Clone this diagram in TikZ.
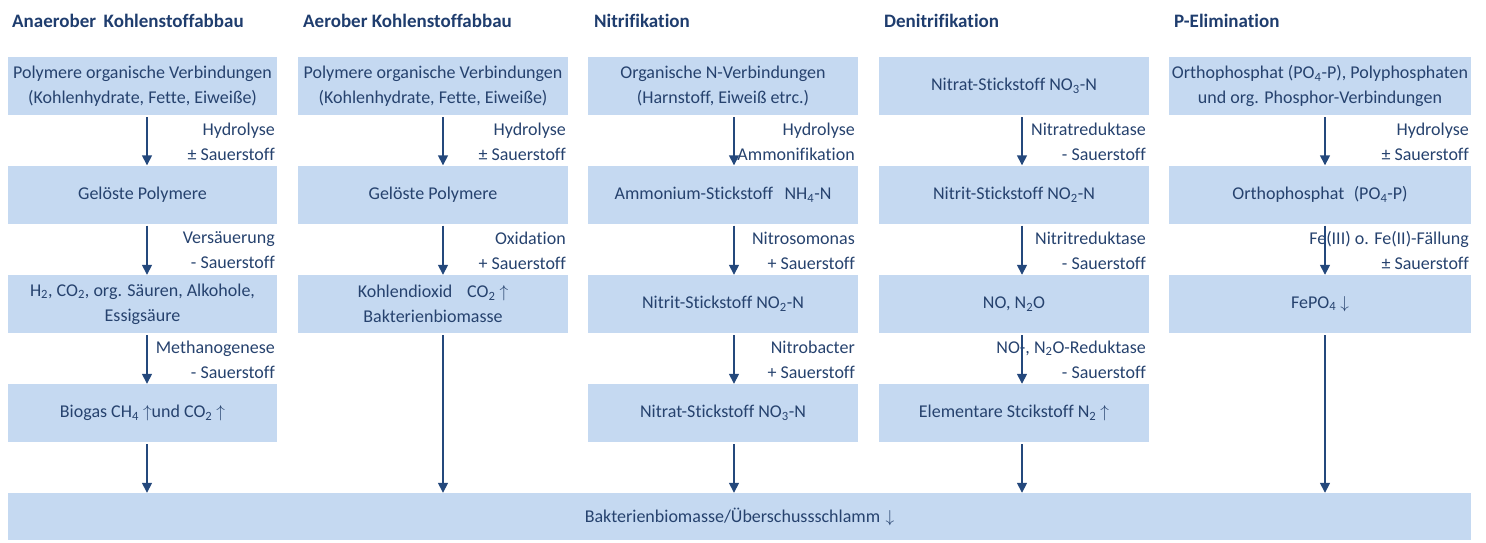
\documentclass[tikz,border=0pt]{standalone}
\usepackage{fontspec}
\setmainfont{Carlito}[Ligatures=NoCommon]
\usetikzlibrary{arrows.meta}
\definecolor{boxblue}{HTML}{C5D9F1}
\definecolor{txt}{HTML}{26426E}
\definecolor{hdr}{HTML}{1F3D6E}
\definecolor{arrc}{HTML}{24487C}
\newcommand{\sbs}[1]{\textsubscript{#1}}
\begin{document}
\begin{tikzpicture}[x=1pt,y=-1pt,
  box/.style={fill=boxblue, inner sep=0pt, minimum width=270pt, minimum height=58pt,
    align=center, text=txt, font=\fontsize{18}{25}\selectfont},
  lbl/.style={anchor=east, inner sep=0pt, align=right, text=txt, font=\fontsize{18}{25}\selectfont},
  hd/.style={anchor=west, inner sep=0pt, text=hdr, font=\fontsize{19}{22}\selectfont\bfseries},
  arr/.style={draw=arrc, line width=1.5pt, -{Triangle[width=10pt,length=10pt]}, shorten <=2pt}]
\useasboundingbox (0,0) rectangle (1486,542);
% arrow columns
\coordinate (a1) at (147,0);
\coordinate (a2) at (443,0);
\coordinate (a3) at (734,0);
\coordinate (a4) at (1022,0);
\coordinate (a5) at (1325,0);
% headers
\node[hd] (h1) at (12,21) {Anaerober\hspace{0.4em}Kohlenstoffabbau};
\node[hd] (h2) at (303,21) {Aerober Kohlenstoffabbau};
\node[hd] (h3) at (594,21) {Nitrifikation};
\node[hd] (h4) at (884,21) {Denitrifikation};
\node[hd] (h5) at (1174,21) {P-Elimination};
% column 1
\node[box, minimum width=269pt] (n11) at (142.5,86) {Polymere organische Verbindungen\\(Kohlenhydrate, Fette, Eiweiße)};
\node[box, minimum width=269pt] (n12) at (142.5,194.5) {Gelöste Polymere};
\node[box, minimum width=269pt] (n13) at (142.5,304) {H\sbs{2}, CO\sbs{2}, org. Säuren, Alkohole,\\Essigsäure};
\node[box, minimum width=269pt] (n14) at (142.5,413) {Biogas CH\sbs{4} $\uparrow$und CO\sbs{2} $\uparrow$};
\node[lbl] (l11) at (275,141.5) {Hydrolyse\\± Sauerstoff};
\node[lbl] (l12) at (275,250.5) {Versäuerung\\- Sauerstoff};
\node[lbl] (l13) at (275,359.5) {Methanogenese\\- Sauerstoff};
% column 2
\node[box] (n21) at (433,86) {Polymere organische Verbindungen\\(Kohlenhydrate, Fette, Eiweiße)};
\node[box] (n22) at (433,194.5) {Gelöste Polymere};
\node[box] (n23) at (433,304) {Kohlendioxid\hspace{0.6em} CO\sbs{2} $\uparrow$\\Bakterienbiomasse};
\node[lbl] (l21) at (566,141.5) {Hydrolyse\\± Sauerstoff};
\node[lbl] (l22) at (566,250.5) {Oxidation\\+ Sauerstoff};
% column 3
\node[box] (n31) at (723,86) {Organische N-Verbindungen\\(Harnstoff, Eiweiß etrc.)};
\node[box] (n32) at (723,194.5) {Ammonium-Stickstoff\hspace{0.4em} NH\sbs{4}-N};
\node[box] (n33) at (723,304) {Nitrit-Stickstoff NO\sbs{2}-N};
\node[box] (n34) at (723,413) {Nitrat-Stickstoff NO\sbs{3}-N};
\node[lbl] (l31) at (855,141.5) {Hydrolyse\\Ammonifikation};
\node[lbl] (l32) at (855,250.5) {Nitrosomonas\\+ Sauerstoff};
\node[lbl] (l33) at (855,359.5) {Nitrobacter\\+ Sauerstoff};
% column 4
\node[box] (n41) at (1014,86) {Nitrat-Stickstoff NO\sbs{3}-N};
\node[box] (n42) at (1014,194.5) {Nitrit-Stickstoff NO\sbs{2}-N};
\node[box] (n43) at (1014,304) {NO, N\sbs{2}O};
\node[box] (n44) at (1014,413) {Elementare Stcikstoff N\sbs{2} $\uparrow$};
\node[lbl] (l41) at (1146,141.5) {Nitratreduktase\\- Sauerstoff};
\node[lbl] (l42) at (1146,250.5) {Nitritreduktase\\- Sauerstoff};
\node[lbl] (l43) at (1146,359.5) {NO-, N\sbs{2}O-Reduktase\\- Sauerstoff};
% column 5
\node[box, minimum width=302pt] (n51) at (1320,86) {Orthophosphat (PO\sbs{4}-P), Polyphosphaten\\und org. Phosphor-Verbindungen};
\node[box, minimum width=302pt] (n52) at (1320,194.5) {Orthophosphat\hspace{0.3em} (PO\sbs{4}-P)};
\node[box, minimum width=302pt] (n53) at (1320,304) {FePO\sbs{4} $\downarrow$};
\node[lbl] (l51) at (1469,141.5) {Hydrolyse\\± Sauerstoff};
\node[lbl] (l52) at (1469,250.5) {Fe(III) o. Fe(II)-Fällung\\± Sauerstoff};
% bottom
\node[box, minimum width=1463pt, minimum height=47pt] (bot) at (739.5,516.5) {\raisebox{-5pt}{Bakterienbiomasse/Überschussschlamm\hspace{0.3em}$\downarrow$}};
% arrows
\draw[arr] (n11.south -| a1) -- (n12.north -| a1);
\draw[arr] (n12.south -| a1) -- (n13.north -| a1);
\draw[arr] (n13.south -| a1) -- (n14.north -| a1);
\draw[arr] (n14.south -| a1) -- (bot.north -| a1);
\draw[arr] (n21.south -| a2) -- (n22.north -| a2);
\draw[arr] (n22.south -| a2) -- (n23.north -| a2);
\draw[arr] (n23.south -| a2) -- (bot.north -| a2);
\draw[arr] (n31.south -| a3) -- (n32.north -| a3);
\draw[arr] (n32.south -| a3) -- (n33.north -| a3);
\draw[arr] (n33.south -| a3) -- (n34.north -| a3);
\draw[arr] (n34.south -| a3) -- (bot.north -| a3);
\draw[arr] (n41.south -| a4) -- (n42.north -| a4);
\draw[arr] (n42.south -| a4) -- (n43.north -| a4);
\draw[arr] (n43.south -| a4) -- (n44.north -| a4);
\draw[arr] (n44.south -| a4) -- (bot.north -| a4);
\draw[arr] (n51.south -| a5) -- (n52.north -| a5);
\draw[arr] (n52.south -| a5) -- (n53.north -| a5);
\draw[arr] (n53.south -| a5) -- (bot.north -| a5);
\end{tikzpicture}
\end{document}
